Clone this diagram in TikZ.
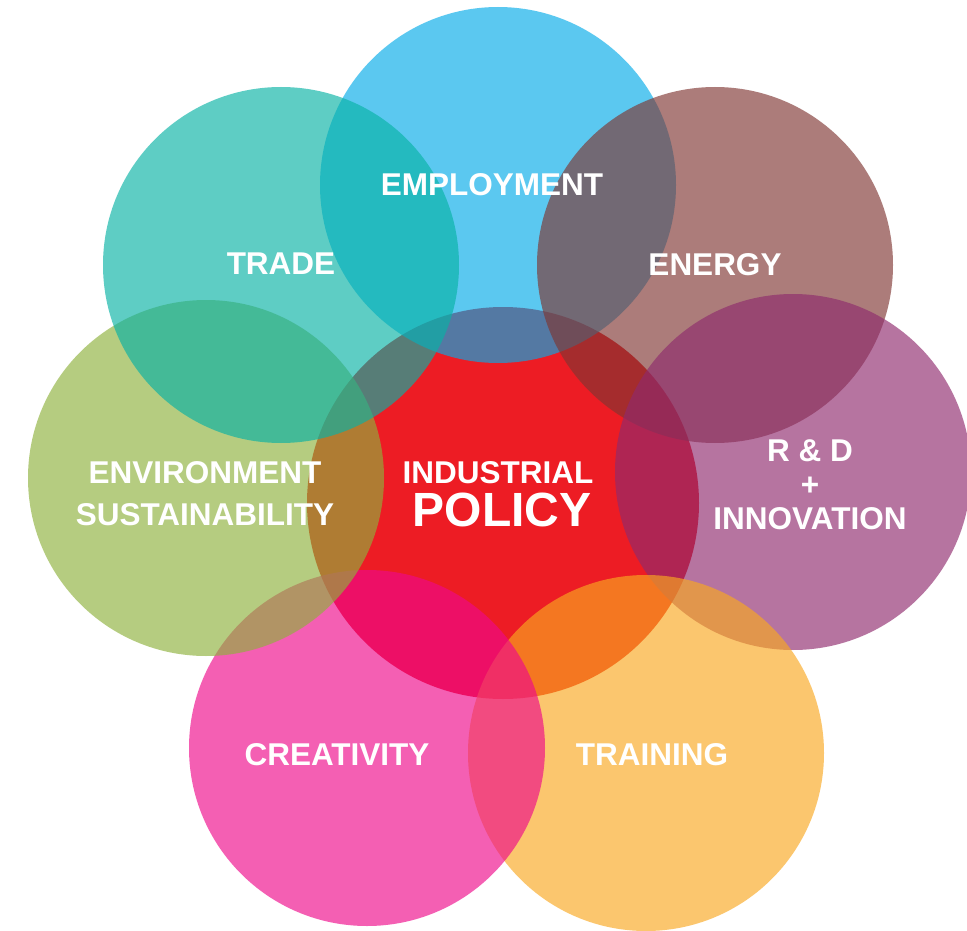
\documentclass[tikz,border=0pt]{standalone}
\usepackage{fontspec}
\setmainfont{Liberation Sans}

\definecolor{policyred}{RGB}{237,28,36}
\definecolor{employblue}{RGB}{3,171,232}
\definecolor{energybrown}{RGB}{127,54,50}
\definecolor{rdpurple}{RGB}{143,42,109}
\definecolor{trainorange}{RGB}{249,168,32}
\definecolor{creativepink}{RGB}{238,9,138}
\definecolor{envgreen}{RGB}{142,177,60}
\definecolor{tradeteal}{RGB}{8,178,165}

\begin{document}
\begin{tikzpicture}[
	x=1pt,
	y=-1pt,
	disc/.style={circle,minimum size=356pt,inner sep=0pt,fill opacity=0.65},
	core/.style={circle,minimum size=392pt,inner sep=0pt},
	topictext/.style={
		text=white,
		align=center,
		inner sep=0pt,
		font=\fontsize{31.5}{34}\selectfont\bfseries
	}
]
\useasboundingbox (0,0) rectangle (967,931);

% the core goes underneath, the others are see-through
\node[core,fill=policyred] (policy) at (503,503) {};
\node[disc,fill=employblue] (employment) at (498,185) {};
\node[disc,fill=energybrown] (energy) at (715,265) {};
\node[disc,fill=rdpurple] (rd) at (793,472) {};
\node[disc,fill=trainorange] (training) at (646,753) {};
\node[disc,fill=creativepink] (creativity) at (367,748) {};
\node[disc,fill=envgreen] (environment) at (206,478) {};
\node[disc,fill=tradeteal] (trade) at (281,265) {};

% labels
\node[topictext] (employmentText) at (492,185) {EMPLOYMENT};
\node[topictext] (tradeText) at (281,264) {TRADE};
\node[topictext] (energyText) at (715,265) {ENERGY};
\node[topictext] (rdText) at (810,485) {R \& D\\+\\INNOVATION};
\node[topictext,font=\fontsize{31.5}{42}\selectfont\bfseries] (environmentText) at (205,494) {ENVIRONMENT\\SUSTAINABILITY};
\node[topictext] (industrialText) at (498,473) {INDUSTRIAL};
\node[topictext,font=\fontsize{48}{50}\selectfont\bfseries] (policyText) at (502,510) {POLICY};
\node[topictext] (creativityText) at (337,755) {CREATIVITY};
\node[topictext] (trainingText) at (652,755) {TRAINING};

\end{tikzpicture}
\end{document}
